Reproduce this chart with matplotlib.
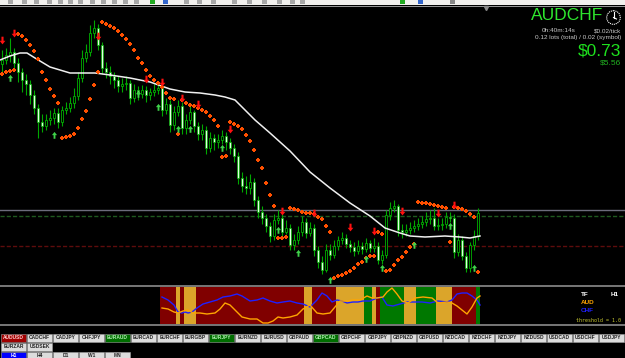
import numpy as np
import matplotlib
matplotlib.use("Agg")
import matplotlib.pyplot as plt
from matplotlib.patches import Rectangle, Circle

# ----------------------------
# Data (price in chart units)
# ----------------------------
first_open = 236
closes = [240, 245, 248, 237, 228, 220, 216, 205, 192, 178,
          174, 180, 182, 187, 178, 190, 192, 197, 204, 222,
          242, 248, 267, 272, 255, 232, 228, 224, 220, 214,
          216, 217, 202, 210, 206, 210, 205, 208, 210, 212,
          190, 196, 175, 188, 194, 172, 180, 188, 174, 166,
          170, 152, 162, 158, 160, 164, 158, 152, 144, 122,
          114, 112, 118, 100, 88, 82, 74, 64, 80, 82,
          68, 72, 55, 60, 68, 78, 67, 72, 50, 38,
          30, 50, 45, 54, 60, 62, 56, 53, 49, 54,
          51, 57, 52, 54, 40, 45, 85, 92, 94, 70,
          68, 70, 72, 74, 76, 78, 81, 82, 74, 75,
          76, 83, 82, 48, 60, 44, 32, 55, 64, 87]
highs = [250, 252, 262, 252, 242, 232, 226, 220, 210, 196,
         186, 186, 190, 192, 192, 194, 198, 203, 212, 228,
         250, 256, 275, 280, 276, 258, 238, 234, 228, 224,
         222, 224, 220, 216, 214, 215, 214, 212, 216, 218,
         214, 202, 200, 194, 200, 198, 186, 194, 190, 178,
         176, 174, 168, 166, 166, 170, 168, 162, 156, 148,
         128, 124, 126, 122, 104, 94, 86, 78, 86, 90,
         86, 80, 76, 66, 74, 84, 82, 78, 76, 54,
         44, 56, 56, 60, 64, 68, 66, 60, 58, 60,
         58, 62, 60, 62, 58, 50, 90, 98, 100, 96,
         76, 76, 78, 80, 82, 84, 88, 90, 92, 82,
         82, 88, 88, 86, 66, 64, 48, 58, 70, 92]
lows = [228, 236, 238, 230, 218, 208, 205, 196, 186, 162,
        168, 170, 175, 176, 172, 174, 186, 188, 192, 200,
        218, 238, 244, 262, 250, 226, 222, 216, 212, 208,
        208, 210, 196, 198, 200, 202, 198, 200, 204, 206,
        184, 186, 168, 170, 184, 166, 166, 176, 168, 160,
        160, 146, 148, 150, 152, 156, 150, 146, 138, 116,
        108, 106, 106, 94, 82, 76, 68, 58, 60, 76,
        64, 66, 50, 50, 56, 64, 62, 64, 44, 32,
        26, 28, 40, 42, 50, 56, 52, 48, 44, 46,
        46, 48, 48, 48, 36, 36, 42, 80, 88, 64,
        62, 64, 66, 68, 70, 72, 74, 76, 70, 70,
        70, 72, 78, 42, 44, 40, 28, 28, 50, 60]

# parabolic SAR, one dot per bar
sar = [226, 228, 229, 230, 266, 264, 260, 255, 249, 241,
       228, 220, 211, 204, 197, 162, 163, 164, 166, 172,
       181, 189, 201, 215, 228, 278, 276, 274, 272, 269,
       265, 261, 256, 250, 242, 237, 230, 224, 220, 217,
       213, 207, 202, 201, 166, 200, 197, 195, 194, 192,
       190, 188, 184, 180, 174, 143, 144, 178, 176, 174,
       171, 165, 159, 150, 140, 132, 117, 105, 94, 62,
       62, 63, 92, 91, 90, 88, 87, 87, 86, 83,
       81, 74, 68, 22, 24, 25, 27, 29, 32, 36,
       38, 42, 44, 44, 68, 66, 29, 30, 35, 40,
       43, 48, 53, 56, 98, 97, 97, 96, 95, 94,
       93, 92, 58, 93, 92, 91, 89, 86, 83, 28]

# moving average (white line)
ma_bar = [-0.5, 2, 4.5, 6.25, 8.25, 12, 17, 23.25, 27, 32, 37, 42, 45.75, 49.5,
          53.25, 55.75, 58.25, 60.75, 63.25, 67, 72, 77, 82, 87, 92, 95.75,
          99.5, 102, 105.75, 110.75, 114.5, 117, 119.5]
ma_val = [240, 244, 247, 247, 242, 233, 227, 227, 225, 222, 218, 211, 208, 207,
          205, 203, 200, 190, 180, 167, 149, 128, 112, 97, 84, 72,
          67, 64, 63, 64, 63, 62, 64]

sell_bar = [0, 3, 24, 36, 40, 45, 49, 57, 70, 78, 87, 93, 100, 109, 113]
sell_lvl = [259, 266, 263, 220, 217, 201, 195, 170, 88, 86, 72, 68, 88, 86, 94]
buy_bar = [2, 13, 34, 39, 44, 47, 55, 69, 74, 82, 91, 95, 103, 112, 118]
buy_lvl = [223, 166, 207, 194, 172, 172, 153, 71, 48, 21, 42, 33, 56, 75, 33]

level_grey = 90
level_green = 84
level_red = 54

# currency strength subwindow
band_start = [40, 44, 45, 46, 49, 76, 78, 84, 91, 93, 94, 95, 101, 104, 109, 113, 119]
band_end = [43, 44, 45, 48, 75, 77, 83, 90, 92, 93, 94, 100, 103, 108, 112, 118, 119]
band_state = ["R", "Y", "R", "Y", "R", "Y", "R", "Y", "G", "Y", "R", "G", "Y", "G", "Y", "R", "G"]

chf_bar = [40, 41.5, 43, 44, 45, 45.75, 46.5, 47.5, 48.75, 50.25, 52, 53.75, 55.25, 57,
           58.75, 60, 62, 63.75, 65.25, 67, 68.75, 70.25, 72, 73.75, 75.25, 77, 78.75,
           80, 81.25, 82.5, 83.75, 85, 86.25, 87.75, 89, 90.25, 92, 93.75, 95, 96.25,
           97.75, 99.5, 101.25, 102.75, 105, 107, 109, 111.25, 112.5, 113.75, 115,
           116.25, 117.5, 118.75, 119.5]
chf_val = [28, 25, 20, 13, 12, 13, 12, 13, 17, 21, 23, 25, 28, 29,
           31, 29, 24, 25, 27, 24, 22, 23, 24, 22, 21, 18, 25,
           32, 29, 23, 25, 24, 22, 23, 23, 24, 24, 27, 28, 20,
           19, 21, 23, 23, 23, 22, 24, 23, 25, 31, 32,
           32, 29, 25, 20]
aud_bar = [40, 41.5, 43, 44, 45.25, 46.5, 47.75, 49.5, 51.25, 53.25, 54.5, 55.75, 57,
           58.25, 60, 62, 63.75, 65.25, 66.5, 67.75, 69, 70.25, 72, 73.75, 75.25, 77,
           78.75, 80.25, 82, 83.25, 84.5, 86.25, 87.75, 89.5, 91.25, 92.5, 93.75,
           95.25, 96.25, 97.5, 98.75, 100, 101.5, 103.25, 105.25, 107.5, 109,
           111.25, 112.5, 113.75, 115, 116.25, 117.5, 118.75, 119.5]
aud_val = [17, 16, 13, 12, 14, 15, 12, 12, 11, 12, 16, 22, 20,
           15, 8, 6, 6, 2, 2, 4, 8, 7, 8, 10, 16, 20,
           12, 11, 12, 18, 24, 24, 25, 25, 29, 27, 27,
           28, 33, 37, 31, 24, 22, 27, 28, 27, 22,
           23, 22, 19, 15, 11, 18, 27, 29]

row1_pairs = ["AUDUSD", "CADCHF", "CADJPY", "CHFJPY", "EURAUD", "EURCAD", "EURCHF", "EURGBP",
              "EURJPY", "EURNZD", "EURUSD", "GBPAUD", "GBPCAD", "GBPCHF", "GBPJPY", "GBPNZD",
              "GBPUSD", "NZDCAD", "NZDCHF", "NZDJPY", "NZDUSD", "USDCAD", "USDCHF", "USDJPY"]
row1_state = ["red", "", "", "", "green", "", "", "", "green", "", "", "",
              "green", "", "", "", "", "", "", "", "", "", "", ""]
row2_pairs = ["EURZAR", "USDSEK"]
timeframes = ["H1", "H4", "D1", "W1", "MN"]

# ----------------------------
# Figure
# ----------------------------
W, H = 625, 358
fig = plt.figure(figsize=(6.25, 3.58), dpi=100, facecolor="black")


def px_box(x0, y0, x1, y1):
    return [x0 / W, 1 - y1 / H, (x1 - x0) / W, (y1 - y0) / H]


# main price window
ax = fig.add_axes(px_box(0, 6, 625, 284))
ax.set_xlim(-0.5, 155.75)
ax.set_ylim(16, 294)
ax.axis("off")

ax.axhline(level_grey, color="#6c6c7c", lw=1.0, zorder=1)
ax.axhline(level_green, color="#1f5a1f", lw=1.0, ls=(0, (3, 1.5)), zorder=1)
ax.axhline(level_red, color="#5e0c0c", lw=1.0, ls=(0, (3, 1.5)), zorder=1)

closes = np.array(closes, dtype=float)
opens = np.r_[first_open, closes[:-1]]
idx = np.arange(len(closes))
up = closes >= opens

ax.vlines(idx, lows, highs, color="#00a800", lw=0.8, zorder=2)
ax.bar(idx[up], closes[up] - opens[up], bottom=opens[up], width=0.55,
       color="black", edgecolor="#00b000", lw=0.6, zorder=3)
ax.bar(idx[~up], closes[~up] - opens[~up], bottom=opens[~up], width=0.55,
       color="#e0ffe0", edgecolor="#00b000", lw=0.5, zorder=3)

ax.plot(ma_bar, ma_val, color="#f0f0f0", lw=1.1, zorder=4)
ax.scatter(idx, sar, marker="P", s=6, color="#ff5000", linewidths=0, zorder=5)

down_arrow = [(-0.22, 1), (0.22, 1), (0.22, 0.15), (0.6, 0.15), (0, -0.6), (-0.6, 0.15), (-0.22, 0.15)]
up_arrow = [(x, -y) for x, y in down_arrow]
ax.scatter(sell_bar, sell_lvl, marker=down_arrow, s=48, color="#ff1010", linewidths=0, zorder=6)
ax.scatter(buy_bar, buy_lvl, marker=up_arrow, s=38, color="#3fd24a", linewidths=0, zorder=6)

# strength subwindow
ax2 = fig.add_axes(px_box(0, 287, 625, 324))
ax2.set_xlim(-0.5, 155.75)
ax2.set_ylim(1, 38)
ax2.axis("off")
band_colors = {"R": "#800000", "Y": "#dba52a", "G": "#007800"}
for s, e, st in zip(band_start, band_end, band_state):
    ax2.axvspan(s - 0.5, e + 0.5, color=band_colors[st], lw=0)
ax2.plot(chf_bar, chf_val, color="#2020ff", lw=1.0)
ax2.plot(aud_bar, aud_val, color="#ffa500", lw=1.0)

# ----------------------------
# Terminal decorations (pixel coordinates)
# ----------------------------
ui = fig.add_axes([0, 0, 1, 1])
ui.set_xlim(0, W)
ui.set_ylim(H, 0)
ui.axis("off")
ui.patch.set_alpha(0)

ui.add_patch(Rectangle((0, 0), W, 5, color="#f2f1ee", lw=0))
ui.axhline(5.5, color="#9a9a9a", lw=0.7)
for tx in [8, 22, 34, 47, 58, 68, 78, 90, 101, 112, 123, 134, 184, 197, 211, 232, 247, 262, 277, 290, 300]:
    ui.add_patch(Rectangle((tx, 0), 5, 3.5, color="#a8a8a8", lw=0))
for tx, c in [(150, "#22aa22"), (163, "#3366cc"), (400, "#22aa22"), (418, "#3366cc"), (450, "#888888")]:
    ui.add_patch(Rectangle((tx, 0), 5, 3.5, color=c, lw=0))
ui.plot([486], [7.5], marker="v", ms=3, color="#8a8a8a")

ui.axhline(285.8, color="#8c8c8c", lw=1.2)
ui.axhline(325.2, color="#8c8c8c", lw=1.2)

sans = ["Liberation Sans", "DejaVu Sans"]
ui.text(603, 15.5, "AUDCHF", color="#2ee62e", fontsize=12.5, family=sans, ha="right", va="center")
ui.add_patch(Circle((613.5, 17.5), 6.8, fill=False, ec="white", lw=0.8, ls=(0, (1, 0.8))))
ui.plot([613.5, 613.5], [17.5, 12.0], color="white", lw=0.8)
ui.plot([613.5, 616.5], [17.5, 19.0], color="white", lw=0.8)
ui.text(542, 31, "0h:40m:14s", color="#c8c8c8", fontsize=4.6, family=sans, va="center")
ui.text(621, 31, "$0.02/tick", color="#c8c8c8", fontsize=4.6, family=sans, ha="right", va="center")
ui.text(621, 37.5, "0.12 lots (total) / 0.02 (symbol)", color="#c8c8c8", fontsize=4.6,
        family=sans, ha="right", va="center")
ui.text(621, 51, "$0.73", color="#1ee01e", fontsize=12.5, family=sans, ha="right", va="center")
ui.text(621, 63, "$5.56", color="#20b020", fontsize=6, family=sans, ha="right", va="center")

ui.text(581, 295, "TF", color="white", fontsize=4.6, family=sans, weight="bold", va="center")
ui.text(611, 295, "H1", color="white", fontsize=4.6, family=sans, weight="bold", va="center")
ui.text(581, 302.5, "AUD", color="#ffa500", fontsize=4.6, family=sans, weight="bold", va="center")
ui.text(581, 310.5, "CHF", color="#2020ff", fontsize=4.6, family=sans, weight="bold", va="center")
ui.text(621, 320, "threshold = 1.0", color="#c8c832", fontsize=3.6, family="DejaVu Sans Mono",
        ha="right", va="center")

btn_face = {"": "#dcdcdc", "red": "#a00000", "green": "#006e00", "blue": "#0000ff"}
btn_text = {"": "#202020", "red": "#ffd0d0", "green": "#b0f0b0", "blue": "white"}


def button(k, top, label, state):
    x0 = 1 + 26 * k
    ui.add_patch(Rectangle((x0, top), 25, 7.5, fc=btn_face[state], ec="#a0a0a0", lw=0.4))
    ui.text(x0 + 12.5, top + 3.9, label, color=btn_text[state], fontsize=3.5,
            family=sans, weight="bold", ha="center", va="center")


for k, (p, st) in enumerate(zip(row1_pairs, row1_state)):
    button(k, 334, p, st)
for k, p in enumerate(row2_pairs):
    button(k, 343, p, "")
for k, tf in enumerate(timeframes):
    button(k, 352, tf, "blue" if tf == "H1" else "")

fig.savefig("out.png", dpi=100, facecolor="black")
